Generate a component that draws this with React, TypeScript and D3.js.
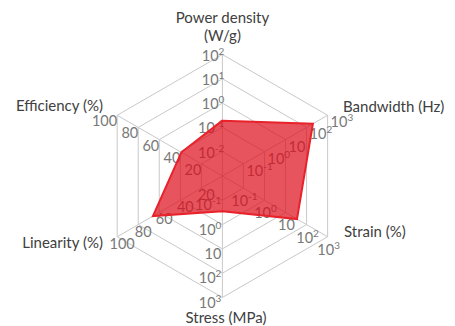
import React from "react";
import * as d3 from "d3";

// ---- data ----
const axisTitles: string[][] = [
  ["Power density", "(W/g)"],
  ["Bandwidth (Hz)"],
  ["Strain (%)"],
  ["Stress (MPa)"],
  ["Linearity (%)"],
  ["Efficiency (%)"],
];
// measured value on each axis (same order as axisTitles)
const values: number[] = [0.19, 200, 35, 0.28, 66, 39];

const powerTicks = [0.01, 0.1, 1, 10, 100];
const powerLabels = ["10^-2", "10^-1", "10^0", "10^1", "10^2"];
const wideLogTicks = [0.1, 1, 10, 100, 1000];
const wideLogLabels = ["10^-1", "10^0", "10", "10^2", "10^3"];
const pctTicks = [20, 40, 60, 80, 100];
const pctLabels = ["20", "40", "60", "80", "100"];

// ---- layout ----
const W = 455, H = 326;
const cx = 222.4, cy = 176, R = 121.5;

const scales = [
  d3.scaleLog().domain([0.001, 100]).range([0, R]),
  d3.scaleLog().domain([0.01, 1000]).range([0, R]),
  d3.scaleLog().domain([0.01, 1000]).range([0, R]),
  d3.scaleLog().domain([0.01, 1000]).range([0, R]),
  d3.scaleLinear().domain([0, 100]).range([0, R]),
  d3.scaleLinear().domain([0, 100]).range([0, R]),
];
const ticks = [powerTicks, wideLogTicks, wideLogTicks, wideLogTicks, pctTicks, pctTicks];
const tickLabels = [powerLabels, wideLogLabels, wideLogLabels, wideLogLabels, pctLabels, pctLabels];

const labelStyle = [
  { anchor: "end", dx: 2, dy: 6 },
  { anchor: "start", dx: 3, dy: 12 },
  { anchor: "middle", dx: 1, dy: 18 },
  { anchor: "end", dx: -1, dy: 10 },
  { anchor: "middle", dx: 5, dy: 12 },
  { anchor: "end", dx: 0, dy: 11 },
];

const titlePos = [
  { x: 222.5, y: 23, anchor: "middle" },
  { x: 343, y: 112, anchor: "start" },
  { x: 344, y: 237, anchor: "start" },
  { x: 226, y: 323, anchor: "middle" },
  { x: 103, y: 248, anchor: "end" },
  { x: 103, y: 111, anchor: "end" },
];

const angle = d3.scaleLinear().domain([0, 6]).range([0, 2 * Math.PI]);
const pt = (r: number, i: number): [number, number] => [
  cx + r * Math.sin(angle(i)),
  cy - r * Math.cos(angle(i)),
];

const FONT = "Lato, 'Open Sans', sans-serif";

function TickLabel({ text, x, y, anchor }: { text: string; x: number; y: number; anchor: string }) {
  const [base, sup] = text.split("^");
  return (
    <text x={x} y={y} textAnchor={anchor} fontSize={14.5} fill="#787878" fontFamily={FONT}>
      <tspan>{base}</tspan>
      {sup !== undefined && (
        <tspan dy={-6} fontSize={10}>
          {sup}
        </tspan>
      )}
    </text>
  );
}

export default function App() {
  const levels = d3.range(1, 6).map((k) => (R * k) / 5);
  const ring = d3.line().curve(d3.curveLinearClosed);
  const dataPts = values.map((v, i) => pt(scales[i](v), i));

  return (
    <svg
      width={W}
      height={H}
      style={{ position: "absolute", left: 0, top: 0, background: "#fff" }}
    >
      <rect width={W} height={H} fill="#fff" />
      {/* grid rings */}
      {levels.map((r, k) => (
        <path
          key={"ring" + k}
          d={ring(d3.range(6).map((i) => pt(r, i))) || ""}
          fill="none"
          stroke="#c9c9c9"
          strokeWidth={1}
        />
      ))}
      {/* spokes */}
      {d3.range(6).map((i) => {
        const [x2, y2] = pt(R, i);
        return (
          <line key={"sp" + i} x1={cx} y1={cy} x2={x2} y2={y2} stroke="#c9c9c9" strokeWidth={1} />
        );
      })}
      {/* tick labels */}
      {ticks.map((tv, i) =>
        tv.map((t, k) => {
          const [x, y] = pt(scales[i](t), i);
          const s = labelStyle[i];
          return (
            <TickLabel
              key={`t${i}-${k}`}
              text={tickLabels[i][k]}
              x={x + s.dx}
              y={y + s.dy}
              anchor={s.anchor}
            />
          );
        })
      )}
      {/* data polygon */}
      <path
        d={ring(dataPts) || ""}
        fill="rgb(222,12,25)"
        fillOpacity={0.7}
        stroke="#e8222b"
        strokeWidth={2}
        strokeLinejoin="miter"
      />
      {/* axis titles */}
      {axisTitles.map((lines, i) => (
        <text
          key={"ti" + i}
          x={titlePos[i].x}
          y={titlePos[i].y}
          textAnchor={titlePos[i].anchor}
          fontSize={15}
          fill="#404040"
          fontFamily={FONT}
        >
          {lines.map((l, j) => (
            <tspan key={j} x={titlePos[i].x} dy={j === 0 ? 0 : 18}>
              {l}
            </tspan>
          ))}
        </text>
      ))}
    </svg>
  );
}
